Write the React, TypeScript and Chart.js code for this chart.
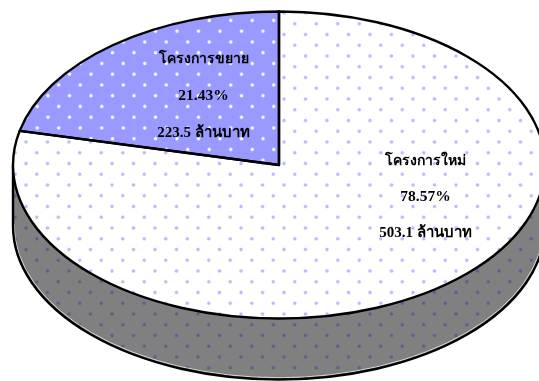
import React, { useEffect, useRef } from "react";
import { Chart, registerables } from "chart.js";

Chart.register(...registerables);

const categories = ["โครงการใหม่", "โครงการขยาย"];
const sharePercent = [78.57, 21.43];
const amountLabels = ["503.1 ล้านบาท", "223.5 ล้านบาท"];

const RADIUS_X = 266;
const RADIUS_Y = 153.5;
const DEPTH = 61;
const SCALE_Y = RADIUS_Y / RADIUS_X;
const LINE = 2.4;

function makePattern(bg: string, core: string, halo: string, ox: number, oy: number, coreR = 0.9, haloR = 2.8) {
  const c = document.createElement("canvas");
  c.width = 43;
  c.height = 43;
  const g = c.getContext("2d")!;
  g.fillStyle = bg;
  g.fillRect(0, 0, 43, 43);
  for (let r = -4; r < 12; r++) {
    const y = ((13 + oy) % 43) + r * 10.75;
    for (let k = -4; k < 8; k++) {
      const x = ((284 + ox) % 43) + k * 21.5 + (r % 2 !== 0 ? 10.75 : 0);
      const grad = g.createRadialGradient(x, y, coreR * 0.4, x, y, haloR);
      grad.addColorStop(0, core);
      grad.addColorStop(coreR / haloR, core);
      grad.addColorStop(1, halo);
      g.fillStyle = grad;
      g.beginPath();
      g.arc(x, y, haloR, 0, Math.PI * 2);
      g.fill();
    }
  }
  return g.createPattern(c, "repeat")!;
}

export default function App() {
  const ref = useRef<HTMLCanvasElement>(null);
  useEffect(() => {
    document.body.style.margin = "0";
    document.body.style.background = "#ffffff";
    const whiteFace = makePattern("#ffffff", "#bcbcfa", "rgba(255,255,255,0)", 0, 0);
    const blueFace = makePattern("#9999ff", "#f6f6ff", "rgba(153,153,255,0)", 0.5, -3.3);
    const wall = makePattern("#808080", "#5f5f92", "rgba(128,128,128,0)", 0, 0);

    const ellipsePlugin = {
      id: "ellipsePie",
      beforeDatasetsDraw(chart: any) {
        const ctx = chart.ctx;
        const arc = chart.getDatasetMeta(0).data[0];
        const { x, y } = arc;
        const by = y + DEPTH;
        ctx.save();
        ctx.beginPath();
        ctx.ellipse(x, by, RADIUS_X, RADIUS_Y, 0, 0, Math.PI);
        ctx.lineTo(x - RADIUS_X, y);
        ctx.lineTo(x + RADIUS_X, y);
        ctx.closePath();
        ctx.fillStyle = wall;
        ctx.fill();
        ctx.beginPath();
        ctx.ellipse(x, by - 1.8, RADIUS_X - 1, RADIUS_Y, 0, 0, Math.PI);
        ctx.strokeStyle = "rgba(255,255,255,0.85)";
        ctx.lineWidth = 0.8;
        ctx.stroke();
        ctx.beginPath();
        ctx.moveTo(x - RADIUS_X, y);
        ctx.lineTo(x - RADIUS_X, by);
        ctx.ellipse(x, by, RADIUS_X, RADIUS_Y, 0, Math.PI, 0, true);
        ctx.lineTo(x + RADIUS_X, y);
        ctx.strokeStyle = "#000000";
        ctx.lineWidth = LINE;
        ctx.stroke();
        ctx.restore();

        const inv = new DOMMatrix().translate(x, y).scale(1, 1 / SCALE_Y).translate(-x, -y);
        whiteFace.setTransform(inv);
        blueFace.setTransform(inv);
        ctx.save();
        ctx.translate(x, y);
        ctx.scale(1, SCALE_Y);
        ctx.translate(-x, -y);
      },
      afterDatasetsDraw(chart: any) {
        const ctx = chart.ctx;
        ctx.restore();
        const arcs = chart.getDatasetMeta(0).data;
        arcs.forEach((a: any) => {
          ctx.save();
          ctx.beginPath();
          ctx.translate(a.x, a.y);
          ctx.scale(1, SCALE_Y);
          ctx.moveTo(0, 0);
          ctx.arc(0, 0, a.outerRadius, a.startAngle, a.endAngle);
          ctx.closePath();
          ctx.restore();
          ctx.strokeStyle = "#000000";
          ctx.lineWidth = LINE;
          ctx.lineJoin = "round";
          ctx.stroke();
        });
        const rows: [number, number[], string[]][] = [
          [425.5, [165, 201, 236.5], [categories[0], sharePercent[0].toFixed(2) + "%", amountLabels[0]]],
          [203.5, [63, 100, 137], [categories[1], sharePercent[1].toFixed(2) + "%", amountLabels[1]]],
        ];
        const sizes = [14, 15.5, 15];
        ctx.save();
        ctx.fillStyle = "#000000";
        ctx.textAlign = "center";
        ctx.textBaseline = "alphabetic";
        rows.forEach(([cx, ys, texts]) => {
          texts.forEach((t, i) => {
            ctx.font = `bold ${sizes[i]}px "Liberation Serif", "Noto Sans", serif`;
            ctx.fillText(t, cx, ys[i]);
          });
        });
        ctx.restore();
      },
    };

    const chart = new Chart(ref.current!, {
      type: "pie",
      data: {
        labels: categories,
        datasets: [
          {
            data: sharePercent,
            backgroundColor: [whiteFace, blueFace],
            borderWidth: 0,
            clip: false,
          } as any,
        ],
      },
      options: {
        responsive: false,
        animation: false,
        radius: RADIUS_X,
        layout: { padding: { left: 19, top: 0, right: 0, bottom: 51 } },
        plugins: { legend: { display: false }, tooltip: { enabled: false } },
      } as any,
      plugins: [ellipsePlugin],
    });
    return () => chart.destroy();
  }, []);
  return <canvas ref={ref} width={539} height={381} style={{ display: "block", width: 539, height: 381 }} />;
}
